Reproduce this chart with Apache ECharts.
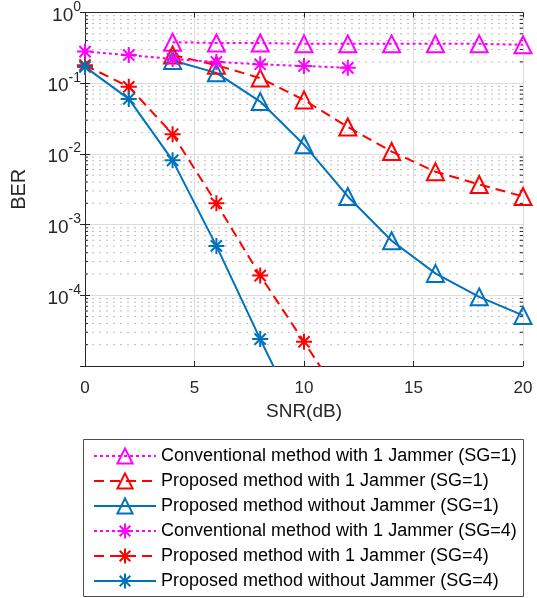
<!DOCTYPE html>
<html>
<head>
<meta charset="utf-8">
<script src="https://cdn.jsdelivr.net/npm/echarts@6/dist/echarts.min.js"></script>
<style>
  html, body { margin: 0; padding: 0; background: #fff; }
  #chart { width: 537px; height: 598px; }
</style>
</head>
<body>
<div id="chart"></div>
<script>
// SNR points
var snrSG1 = [4, 6, 8, 10, 12, 14, 16, 18, 20];
var snrConv4 = [0, 2, 4, 6, 8, 10, 12];
var snrProp4 = [0, 2, 4, 6, 8, 10, 12];
var snrNoJam4 = [0, 2, 4, 6, 8, 10];

// BER values
var convSG1 = [0.38, 0.37, 0.37, 0.36, 0.36, 0.36, 0.36, 0.36, 0.35];
var propSG1 = [0.25, 0.18, 0.118, 0.058, 0.024, 0.0108, 0.0056, 0.0037, 0.0025];
var noJamSG1 = [0.21, 0.14, 0.055, 0.0135, 0.0025, 0.00059, 0.000204, 0.000095, 0.000052];
var convSG4 = [0.28, 0.25, 0.22, 0.20, 0.185, 0.175, 0.165];
var propSG4 = [0.18, 0.089, 0.019, 0.002, 0.00019, 0.000022, 0.0000025];
var noJamSG4 = [0.17, 0.06, 0.0081, 0.0005, 0.000024, 0.0000013];

var names = [
  'Conventional method with 1 Jammer (SG=1)',
  'Proposed method with 1 Jammer (SG=1)',
  'Proposed method without Jammer (SG=1)',
  'Conventional method with 1 Jammer (SG=4)',
  'Proposed method with 1 Jammer (SG=4)',
  'Proposed method without Jammer (SG=4)'
];

var MAGENTA = '#ff00ff', RED = '#ff0000', BLUE = '#0072bd';
var AXIS = '#262626';
var STAR = 'path://M0,-10L0,10M-10,0L10,0M-7,-7L7,7M-7,7L7,-7';

function pairs(xs, ys) {
  return xs.map(function (x, i) { return [x, ys[i]]; });
}

// minor decade values 2..9 x 10^k: dotted grid + small ticks on both sides
var minorGrid = [], minorTicks = [];
for (var k = -5; k < 0; k++) {
  for (var m = 2; m <= 9; m++) {
    var v = m * Math.pow(10, k);
    minorGrid.push([0, v], [20, v], '-');
    minorTicks.push([0, v], [0.14, v], '-', [19.86, v], [20, v], '-');
  }
}

function mkSeries(name, data, color, dash, marker) {
  var tri = marker === 'tri';
  return {
    name: name,
    type: 'line',
    data: data,
    symbol: tri ? 'triangle' : STAR,
    symbolSize: tri ? 17 : 16,
    symbolKeepAspect: true,
    showAllSymbol: true,
    clip: true,
    z: 3,
    lineStyle: { color: color, width: 2, type: dash },
    itemStyle: { color: 'rgba(0,0,0,0)', borderColor: color, borderWidth: 2 },
    emphasis: { disabled: true }
  };
}

function helper(data, color, dash) {
  return {
    type: 'line', data: data, symbol: 'none', silent: true,
    connectNulls: false, z: 1, legendHoverLink: false,
    lineStyle: { color: color, width: 1, type: dash },
    emphasis: { disabled: true }, tooltip: { show: false }
  };
}

var series = [
  helper(minorGrid, '#bdbdbd', [2, 5]),
  helper(minorTicks, AXIS, 'solid'),
  mkSeries(names[0], pairs(snrSG1, convSG1), MAGENTA, [3, 3], 'tri'),
  mkSeries(names[1], pairs(snrSG1, propSG1), RED, [10, 6], 'tri'),
  mkSeries(names[2], pairs(snrSG1, noJamSG1), BLUE, 'solid', 'tri'),
  mkSeries(names[3], pairs(snrConv4, convSG4), MAGENTA, [3, 3], 'star'),
  mkSeries(names[4], pairs(snrProp4, propSG4), RED, [10, 6], 'star'),
  mkSeries(names[5], pairs(snrNoJam4, noJamSG4), BLUE, 'solid', 'star')
];

var chart = echarts.init(document.getElementById('chart'));
chart.setOption({
  animation: false,
  textStyle: { fontFamily: 'Liberation Sans, Arial, sans-serif' },
  grid: { left: 85, right: 14, top: 12, bottom: 232, containLabel: false },
  legend: {
    orient: 'vertical',
    left: 93,
    top: 446,
    itemWidth: 62,
    itemHeight: 19,
    itemGap: 5,
    padding: 0,
    data: names,
    textStyle: { fontSize: 18, color: '#000', lineHeight: 20 },
    selectedMode: false
  },
  graphic: [{
    type: 'rect',
    shape: { x: 83.5, y: 439.5, width: 440, height: 157 },
    style: { fill: '#fff', stroke: '#4d4d4d', lineWidth: 1 },
    z: -1
  }],
  xAxis: [{
    type: 'value', min: 0, max: 20, interval: 5,
    name: 'SNR(dB)', nameLocation: 'middle', nameGap: 36,
    nameTextStyle: { fontSize: 19, color: AXIS },
    axisLine: { lineStyle: { color: AXIS, width: 1 } },
    axisTick: { inside: true, length: 5, lineStyle: { color: AXIS } },
    axisLabel: { fontSize: 17, color: AXIS, margin: 14 },
    splitLine: { show: true, lineStyle: { color: '#dcdcdc', width: 1 } }
  }, {
    type: 'value', min: 0, max: 20, interval: 5, position: 'top',
    axisLine: { show: true, lineStyle: { color: AXIS, width: 1 } },
    axisTick: { show: true, inside: true, length: 5, lineStyle: { color: AXIS } },
    axisLabel: { show: false },
    splitLine: { show: false }
  }],
  yAxis: [{
    type: 'log', logBase: 10, min: 1e-5, max: 1,
    name: 'BER', nameLocation: 'middle', nameGap: 56,
    nameTextStyle: { fontSize: 20, color: AXIS },
    axisLine: { show: true, lineStyle: { color: AXIS, width: 1 } },
    axisTick: { inside: true, length: 5, lineStyle: { color: AXIS } },
    axisLabel: {
      margin: 4,
      showMinLabel: false,
      formatter: function (v) {
        return '{b|10}{s|' + Math.round(Math.log10(v)) + '}';
      },
      rich: {
        b: { fontSize: 19, color: AXIS, lineHeight: 25, verticalAlign: 'bottom' },
        s: { fontSize: 14, color: AXIS, lineHeight: 14, verticalAlign: 'top' }
      }
    },
    splitLine: { show: true, lineStyle: { color: '#dcdcdc', width: 1 } }
  }, {
    type: 'log', logBase: 10, min: 1e-5, max: 1, position: 'right',
    axisLine: { show: true, lineStyle: { color: AXIS, width: 1 } },
    axisTick: { show: true, inside: true, length: 5, lineStyle: { color: AXIS } },
    axisLabel: { show: false },
    splitLine: { show: false }
  }],
  series: series
});
</script>
</body>
</html>
